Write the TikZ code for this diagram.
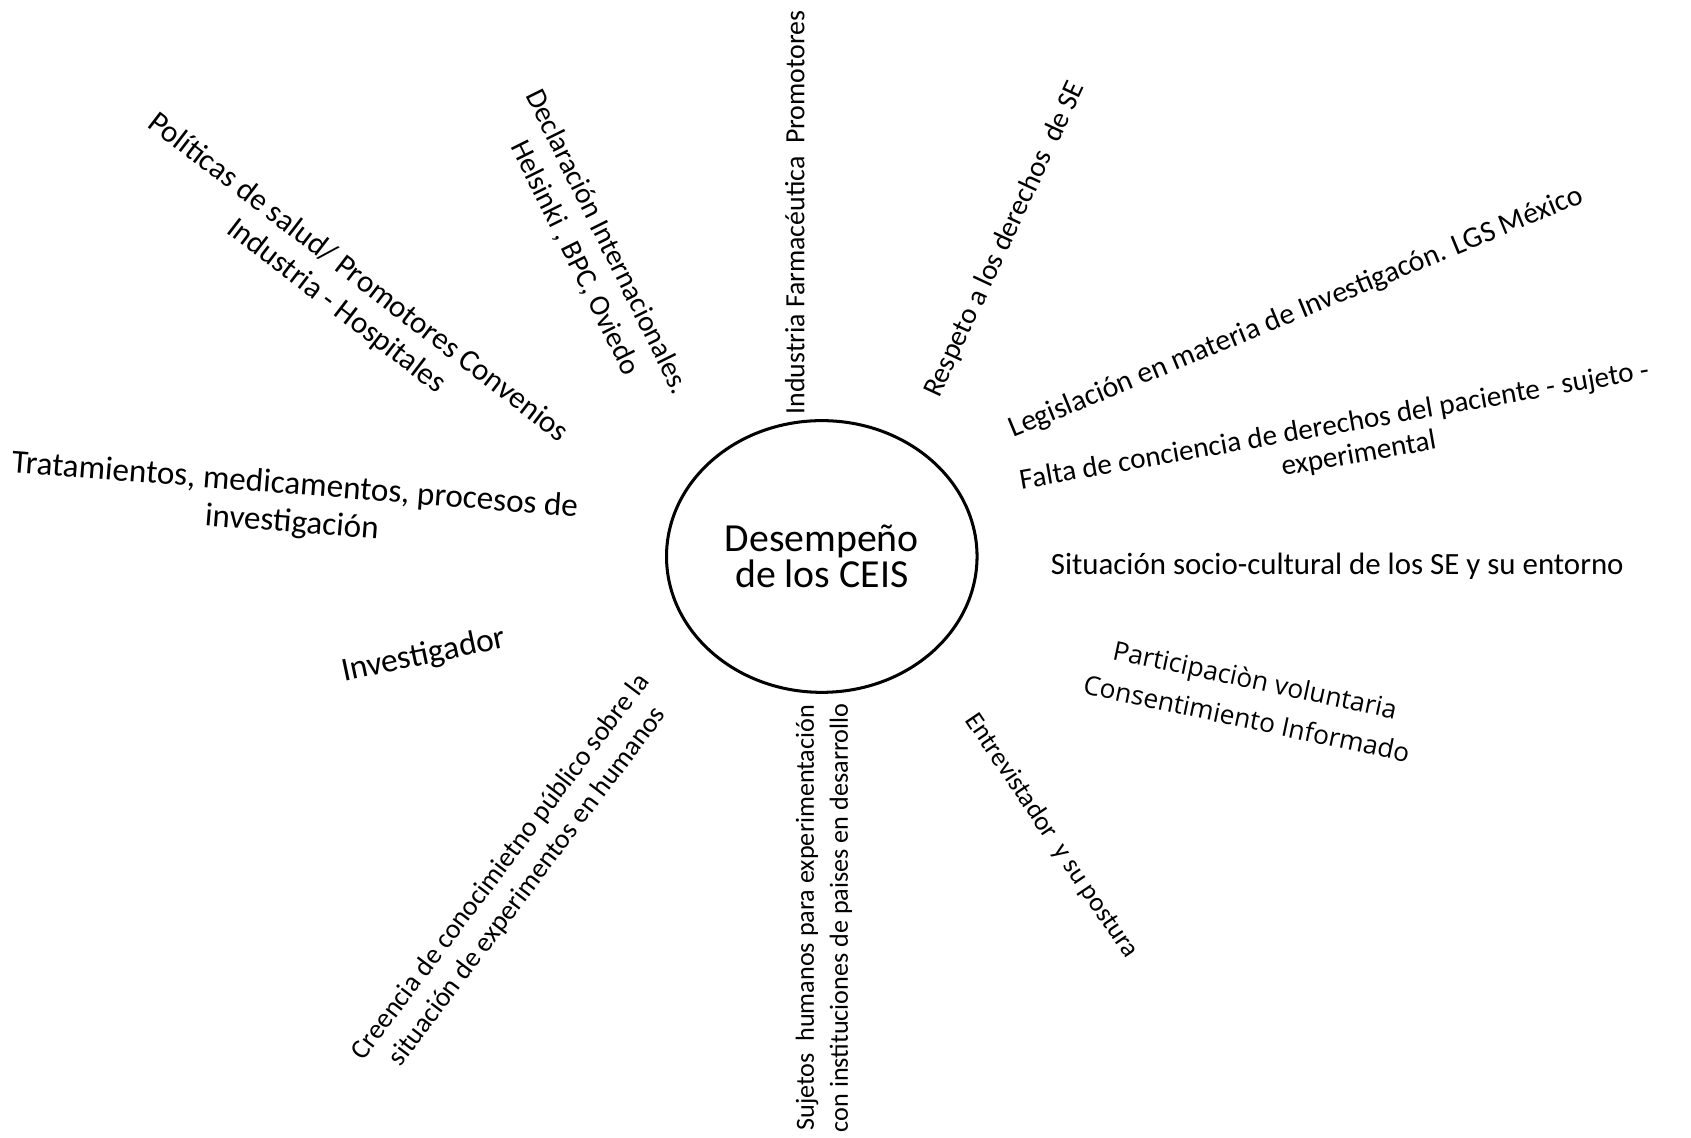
\documentclass[tikz,border=0pt]{standalone}
\usepackage{fontspec}
\setmainfont{Carlito}
\newfontfamily\widefont{Open Sans}
\usetikzlibrary{shapes.geometric}

\begin{document}
\begin{tikzpicture}[x=0.02cm, y=-0.02cm,
    factor/.style 2 args={align=center, inner sep=1pt, font=\fontsize{#1}{#2}\selectfont}]
    \useasboundingbox (0,0) rectangle (1568,1055);

    % Centre
    \node[draw, ellipse, line width=1.6pt, minimum width=5.76cm, minimum height=5.04cm, align=center,
          font=\fontsize{21}{19}\selectfont] (ceis) at (762,516) {Desempeño\\de los CEIS};

    % Factors around the centre
    \node[factor={14.7}{18}, rotate=90] (industria) at (737,197) {Industria Farmacéutica\ \ Promotores};
    \node[factor={15.4}{19}, rotate=-63.6] (declaracion) at (548,232) {Declaración Internacionales.\\Helsinki , BPC, Oviedo};
    \node[factor={16.4}{19}, rotate=-37.5] (politicas) at (322,271) {Políticas de salud/ Promotores Convenios\\Industria - Hospitales};
    \node[factor={17.5}{20}, rotate=-4.5] (tratamientos) at (272,468) {Tratamientos, medicamentos, procesos de\\investigación};
    \node[factor={17.7}{20}, rotate=12] (investigador) at (393,608) {Investigador};
    \node[factor={14.6}{17.5}, rotate=53] (creencia) at (477,813) {Creencia de conocimietno público sobre la\\situación de experimentos en humanos};
    \node[factor={13.8}{18}, rotate=90] (sujetos) at (764,851) {Sujetos\ \ humanos para experimentación\\con instituciones de paises en desarrollo};
    \node[factor={14.1}{18}, rotate=-56] (entrevistador) at (975,775) {Entrevistador\ \ y su postura};
    \node[align=center, inner sep=1pt, rotate=-12, font=\widefont\fontsize{13.9}{21}\selectfont] (participacion) at (1160,648) {Participaciòn voluntaria\\Consentimiento Informado};
    \node[factor={16.3}{19}] (situacion) at (1240,525) {Situación socio-cultural de los SE y su entorno};
    \node[factor={15.4}{17}, rotate=10] (falta) at (1240,410) {Falta de conciencia de derechos del paciente - sujeto -\\\hspace*{20pt}experimental};
    \node[factor={15.7}{19}, rotate=22.4] (legislacion) at (1202,290) {Legislación en materia de Investigacón. LGS México};
    \node[factor={15.2}{19}, rotate=65] (respeto) at (932,222) {Respeto a los derechos\ \ de SE};
\end{tikzpicture}
\end{document}
